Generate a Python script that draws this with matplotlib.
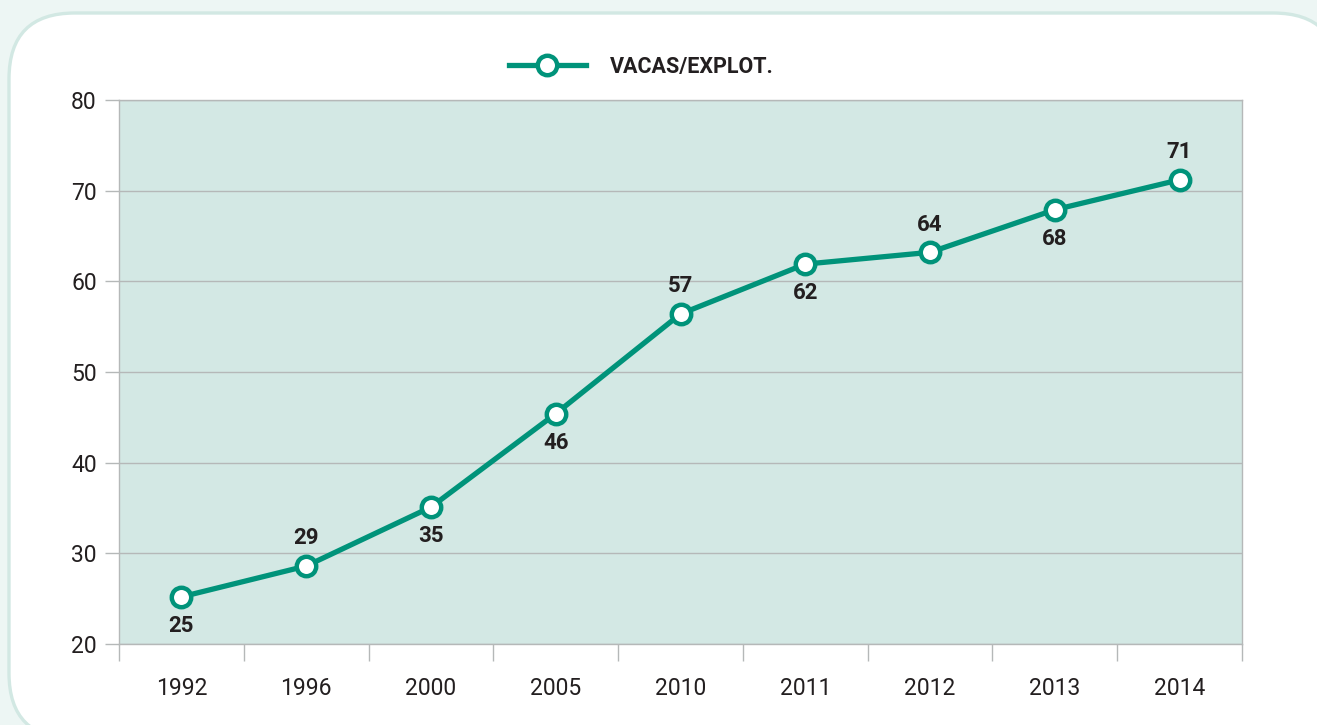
import matplotlib.pyplot as plt
from matplotlib.patches import FancyBboxPatch
from matplotlib.lines import Line2D

years = ["1992", "1996", "2000", "2005", "2010", "2011", "2012", "2013", "2014"]
vacas = [25.2, 28.6, 35.1, 45.4, 56.4, 61.9, 63.2, 67.9, 71.2]
labels = ["25", "29", "35", "46", "57", "62", "64", "68", "71"]
label_above = [False, True, False, False, True, False, True, False, True]

teal = "#00937a"
fill = "#d3e8e4"
gridc = "#b5b8b8"
textc = "#231f20"

plt.rcParams["font.family"] = ["Roboto", "DejaVu Sans"]

W, H = 1317, 725
fig = plt.figure(figsize=(W / 100, H / 100), dpi=100)
fig.patch.set_facecolor("#edf6f4")

# rounded white panel behind everything (runs off the right / bottom edge)
panel = FancyBboxPatch((9 / W, -14 / H), 1330 / W, 726 / H,
                       boxstyle="round,pad=0,rounding_size=0.05",
                       transform=fig.transFigure, facecolor="white",
                       edgecolor="#d2e8e3", linewidth=2.4, mutation_aspect=W / H,
                       zorder=-10)
fig.patches.append(panel)

ax = fig.add_axes([119 / W, (H - 644) / H, (1242 - 119) / W, (644 - 100) / H])
ax.set_zorder(1)
ax.set_facecolor(fill)
x = list(range(len(years)))
ax.plot(x, vacas, color=teal, lw=3.8, marker="o", ms=14, mfc="white",
        mec=teal, mew=3.2, zorder=3, clip_on=False)

for xi, v, lab, up in zip(x, vacas, labels, label_above):
    off = 20 if up else -21
    ax.annotate(lab, (xi, v), xytext=(0, off), textcoords="offset points",
                ha="center", va="center", fontsize=16, fontweight="bold",
                color=textc)

ax.set_xlim(-0.5, len(years) - 0.5)
ax.set_ylim(20, 80)
ax.set_yticks(range(20, 81, 10))
ax.yaxis.grid(True, color=gridc, lw=1)
ax.set_axisbelow(True)

ax.set_xticks(x)
ax.set_xticklabels(years)
ax.set_xticks([i - 0.5 for i in range(len(years) + 1)], minor=True)
ax.tick_params(axis="x", which="major", length=0, pad=24, labelsize=16.5,
               labelcolor=textc)
ax.tick_params(axis="x", which="minor", length=12, width=1, color=gridc)
ax.tick_params(axis="y", length=10, width=1, color=gridc, pad=6,
               labelsize=16.5, labelcolor=textc)
for s in ax.spines.values():
    s.set_color(gridc)
    s.set_linewidth(1)

# legend at top
handle = Line2D([0], [0], color=teal, lw=3.8, marker="o", ms=14, mfc="white",
                mec=teal, mew=3.2)
leg = fig.legend([handle], ["VACAS/EXPLOT."], loc="center",
                 bbox_to_anchor=(641 / W, (H - 67) / H), frameon=False,
                 handlelength=3.6, handletextpad=1.1,
                 prop={"weight": "bold", "size": 15.5})
for t in leg.get_texts():
    t.set_color(textc)

fig.savefig("out.png", dpi=100, facecolor=fig.get_facecolor())
